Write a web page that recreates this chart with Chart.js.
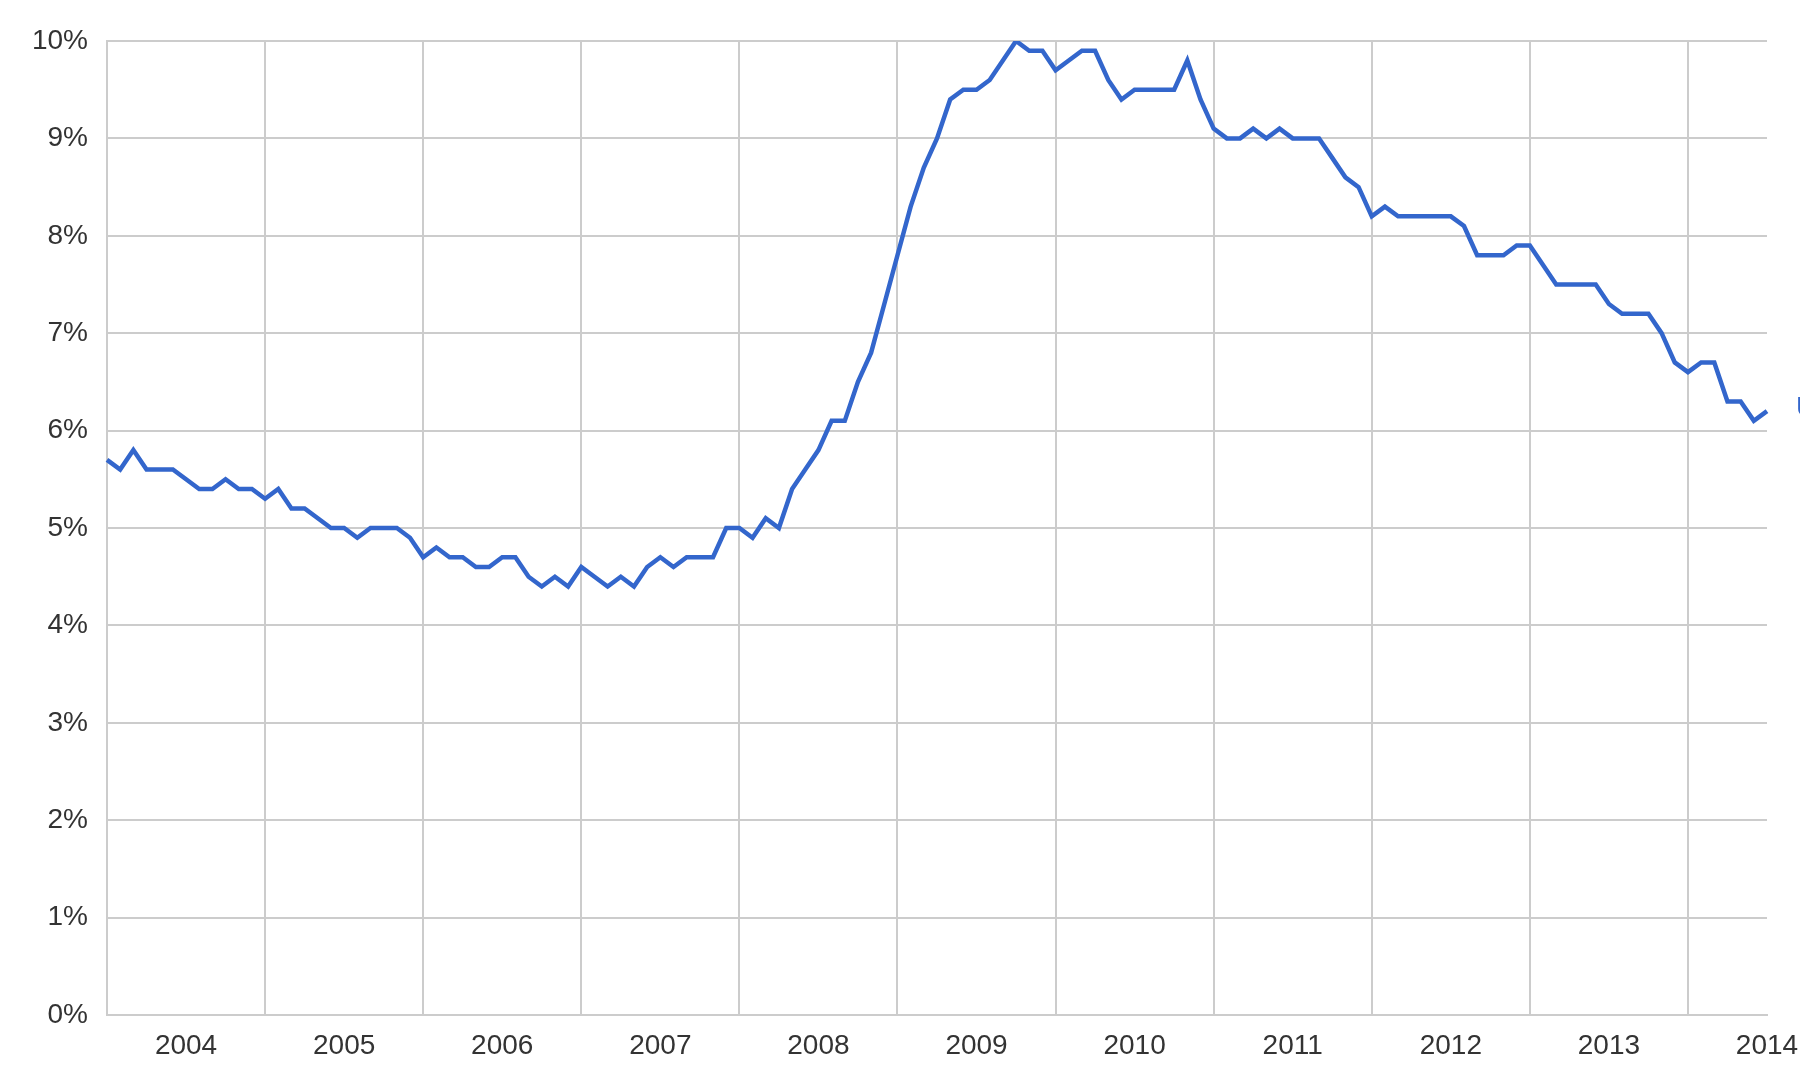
<!DOCTYPE html>
<html>
<head>
<meta charset="utf-8">
<script src="https://cdn.jsdelivr.net/npm/chart.js@4"></script>
<style>
html,body{margin:0;padding:0;background:#fff;overflow:hidden;}
canvas{display:block;}
</style>
</head>
<body>
<canvas id="chart" width="1800" height="1066"></canvas>
<script>

/* DATA - monthly unemployment rate, % */

let rates2004 = [5.7,5.6,5.8,5.6,5.6,5.6,5.5,5.4,5.4,5.5,5.4,5.4];
let rates2005 = [5.3,5.4,5.2,5.2,5.1,5.0,5.0,4.9,5.0,5.0,5.0,4.9];
let rates2006 = [4.7,4.8,4.7,4.7,4.6,4.6,4.7,4.7,4.5,4.4,4.5,4.4];
let rates2007 = [4.6,4.5,4.4,4.5,4.4,4.6,4.7,4.6,4.7,4.7,4.7,5.0];
let rates2008 = [5.0,4.9,5.1,5.0,5.4,5.6,5.8,6.1,6.1,6.5,6.8,7.3];
let rates2009 = [7.8,8.3,8.7,9.0,9.4,9.5,9.5,9.6,9.8,10.0,9.9,9.9];
let rates2010 = [9.7,9.8,9.9,9.9,9.6,9.4,9.5,9.5,9.5,9.5,9.8,9.4];
let rates2011 = [9.1,9.0,9.0,9.1,9.0,9.1,9.0,9.0,9.0,8.8,8.6,8.5];
let rates2012 = [8.2,8.3,8.2,8.2,8.2,8.2,8.2,8.1,7.8,7.8,7.8,7.9];
let rates2013 = [7.9,7.7,7.5,7.5,7.5,7.5,7.3,7.2,7.2,7.2,7.0,6.7];
let rates2014 = [6.6,6.7,6.7,6.3,6.3,6.1,6.2];

let years = ["2004","2005","2006","2007","2008","2009","2010","2011","2012","2013","2014"];
let yTicks = [0,1,2,3,4,5,6,7,8,9,10];
let seriesName = "Unemployment rate";


/* BUILD LABELS + VALUES */

let yearRates = [rates2004,rates2005,rates2006,rates2007,rates2008,rates2009,
rates2010,rates2011,rates2012,rates2013,rates2014];

let labels = [];
let values = [];

yearRates.forEach((arr,i)=>{
arr.forEach((v,m)=>{
labels.push(years[i] + "-" + (m<9?"0":"") + (m+1));
values.push(v);
});
});


/* LEGEND TEXT (clipped at the right edge like the original) */

let endLabel = {
id:"endLabel",
afterDatasetsDraw(chart){
let ctx = chart.ctx;
let y = chart.scales.y.getPixelForValue(values[values.length-1]);
ctx.save();
ctx.fillStyle = "#3366cc";
ctx.font = "28px 'Liberation Sans', Arial, sans-serif";
ctx.textBaseline = "middle";
ctx.fillText(seriesName, 1796, y - 3);
ctx.restore();
}
};


/* CHART */

let gridColor = "#cccccc";
let textFont = {family:"'Liberation Sans', Arial, sans-serif", size:28};

new Chart(document.getElementById("chart").getContext("2d"),{

type:"line",

data:{
labels:labels,
datasets:[{
label:seriesName,
data:values,
borderColor:"#3366cc",
borderWidth:4.5,
pointRadius:0,
tension:0,
fill:false
}]
},

options:{
responsive:false,
animation:false,
layout:{padding:{top:41,right:33,bottom:0,left:0}},
plugins:{
legend:{display:false},
tooltip:{enabled:false}
},
scales:{
x:{
type:"category",
offset:false,
afterFit:(scale)=>{ scale.height = 51; scale.paddingRight = 0; },
grid:{
color:(c)=> (c.index % 12 === 0) ? gridColor : "rgba(0,0,0,0)",
lineWidth:2,
drawTicks:false
},
border:{display:true,color:gridColor,width:2},
ticks:{
autoSkip:false,
maxRotation:0,
padding:14,
color:"#333",
font:textFont,
callback:(v,i)=> (i % 12 === 6) ? years[Math.floor(i/12)] : ""
}
},
y:{
min:yTicks[0],
max:yTicks[yTicks.length-1],
afterBuildTicks:(axis)=>{ axis.ticks = yTicks.map(v=>({value:v})); },
afterFit:(scale)=>{ scale.width = 107; },
grid:{color:gridColor,lineWidth:2,drawTicks:false},
border:{display:true,color:gridColor,width:2},
ticks:{
padding:19,
color:"#333",
font:textFont,
callback:(v)=> v + "%"
}
}
}
},

plugins:[endLabel]

});

</script>
</body>
</html>
